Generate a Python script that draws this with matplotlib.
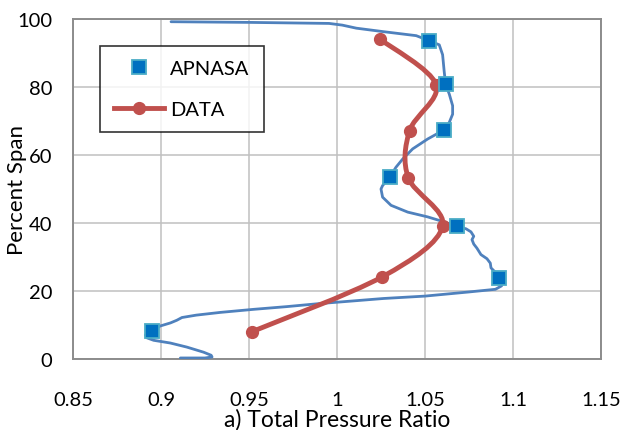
import numpy as np
import matplotlib
matplotlib.use("Agg")
import matplotlib.pyplot as plt
from matplotlib.path import Path
from matplotlib.patches import PathPatch
from matplotlib.lines import Line2D

# APNASA profile (continuous curve)
cfd_x = [0.9110, 0.9250, 0.9290, 0.9285, 0.9242, 0.9147, 0.9053, 0.8958, 0.8921, 0.8911, 0.8930, 0.8953,
         0.8995, 0.9053, 0.9090, 0.9119, 0.9200, 0.9336, 0.9525, 0.9713, 0.9900, 1.0000, 1.0265, 1.0500,
         1.0746, 1.0900, 1.0935, 1.0918, 1.0898, 1.0875, 1.0871, 1.0852, 1.0818, 1.0795, 1.0777, 1.0767,
         1.0777, 1.0761, 1.0733, 1.0680, 1.0610, 1.0515, 1.0402, 1.0307, 1.0259, 1.0250, 1.0259, 1.0301,
         1.0335, 1.0373, 1.0430, 1.0515, 1.0609, 1.0638, 1.0657, 1.0657, 1.0638, 1.0617, 1.0609, 1.0600,
         1.0581, 1.0525, 1.0450, 1.0260, 1.0110, 1.0030, 0.9955, 0.9506, 0.9057]
cfd_y = [0.3, 0.3, 0.6, 1.1, 2.0, 3.5, 4.7, 5.5, 6.2, 7.0, 7.8, 8.3,
         9.7, 10.6, 11.4, 12.2, 12.9, 13.7, 14.6, 15.4, 16.3, 16.7, 17.8, 18.5,
         19.7, 20.5, 21.5, 23.9, 25.6, 26.8, 28.2, 29.5, 30.7, 32.6, 33.8, 35.1,
         36.1, 37.4, 38.3, 39.0, 40.3, 41.8, 43.2, 45.2, 47.6, 50.0, 51.0, 53.6,
         56.4, 58.8, 61.8, 64.7, 67.4, 69.6, 72.0, 74.5, 77.9, 80.8, 84.6, 89.5,
         92.4, 93.6, 95.1, 96.3, 97.3, 98.2, 98.7, 99.0, 99.2]

# APNASA values at measurement stations
apnasa_x = [1.0525, 1.0617, 1.0609, 1.0301, 1.0680, 1.0918, 0.8950]
apnasa_y = [93.6, 80.8, 67.4, 53.6, 39.0, 23.9, 8.3]

# measured data
data_x = [1.0247, 1.0563, 1.0412, 1.0405, 1.0600, 1.0258, 0.9515]
data_y = [94.0, 80.7, 67.1, 53.3, 39.0, 24.2, 8.0]

xticks = [0.85, 0.9, 0.95, 1.0, 1.05, 1.1, 1.15]
xlabels = ["0.85", "0.9", "0.95", "1", "1.05", "1.1", "1.15"]
yticks = [0, 20, 40, 60, 80, 100]

BLUE = "#4F81BD"; RED = "#C0504D"; MFACE = "#0070C0"; MEDGE = "#4BACC6"

plt.rcParams['font.family'] = ['Lato', 'DejaVu Sans']

fig = plt.figure(figsize=(6.21, 4.31), dpi=100)
ax = fig.add_axes([73/621, 1-360/431, (601-73)/621, (360-20)/431])

ax.plot(cfd_x, cfd_y, color=BLUE, lw=2.0, zorder=3, solid_capstyle="round")

# smoothed line through the data points (Catmull-Rom as cubic beziers)
pts = np.column_stack([data_x, data_y])
verts = [pts[0]]; codes = [Path.MOVETO]
for i in range(len(pts)-1):
    p0 = pts[max(i-1, 0)]; p1 = pts[i]; p2 = pts[i+1]; p3 = pts[min(i+2, len(pts)-1)]
    verts += [p1+(p2-p0)/6, p2-(p3-p1)/6, p2]; codes += [Path.CURVE4]*3
ax.add_patch(PathPatch(Path(verts, codes), fc="none", ec=RED, lw=3.5, zorder=4, capstyle="round"))
ax.plot(data_x, data_y, ls="none", marker="o", ms=8.5, color=RED, zorder=5)
ax.plot(apnasa_x, apnasa_y, ls="none", marker="s", ms=9.5, mfc=MFACE, mec=MEDGE, mew=1.3, zorder=6)

ax.set_xlim(0.85, 1.15); ax.set_ylim(0, 100)
ax.set_xticks(xticks); ax.set_xticklabels(xlabels)
ax.set_yticks(yticks)
ax.tick_params(length=0, labelsize=14.5)
ax.tick_params(axis="x", pad=23)
ax.tick_params(axis="y", pad=15)
ax.grid(True, color="#C0C0C0", lw=1.1)
ax.set_axisbelow(True)
for s in ax.spines.values():
    s.set_color("#8C8C8C"); s.set_linewidth(1.4)

ax.set_xlabel("a) Total Pressure Ratio", fontsize=16.5)
ax.xaxis.set_label_coords(0.5, -0.144)
ax.set_ylabel("Percent Span", fontsize=16)
ax.yaxis.set_label_coords(-0.087, 0.5)

h1 = Line2D([], [], ls="none", marker="s", ms=9.5, mfc=MFACE, mec=MEDGE, mew=1.3)
h2 = Line2D([], [], color=RED, lw=3.5, marker="o", ms=8.5)
leg = ax.legend([h1, h2], ["APNASA", "DATA"], loc="upper left", bbox_to_anchor=(0.051, 0.921),
                fontsize=14.5, frameon=True, fancybox=False, handlelength=2.5, handletextpad=0.3,
                borderpad=0.7, labelspacing=1.2, borderaxespad=0)
leg.get_frame().set_edgecolor("black"); leg.get_frame().set_linewidth(1.2)

plt.savefig("out.png", dpi=100)
